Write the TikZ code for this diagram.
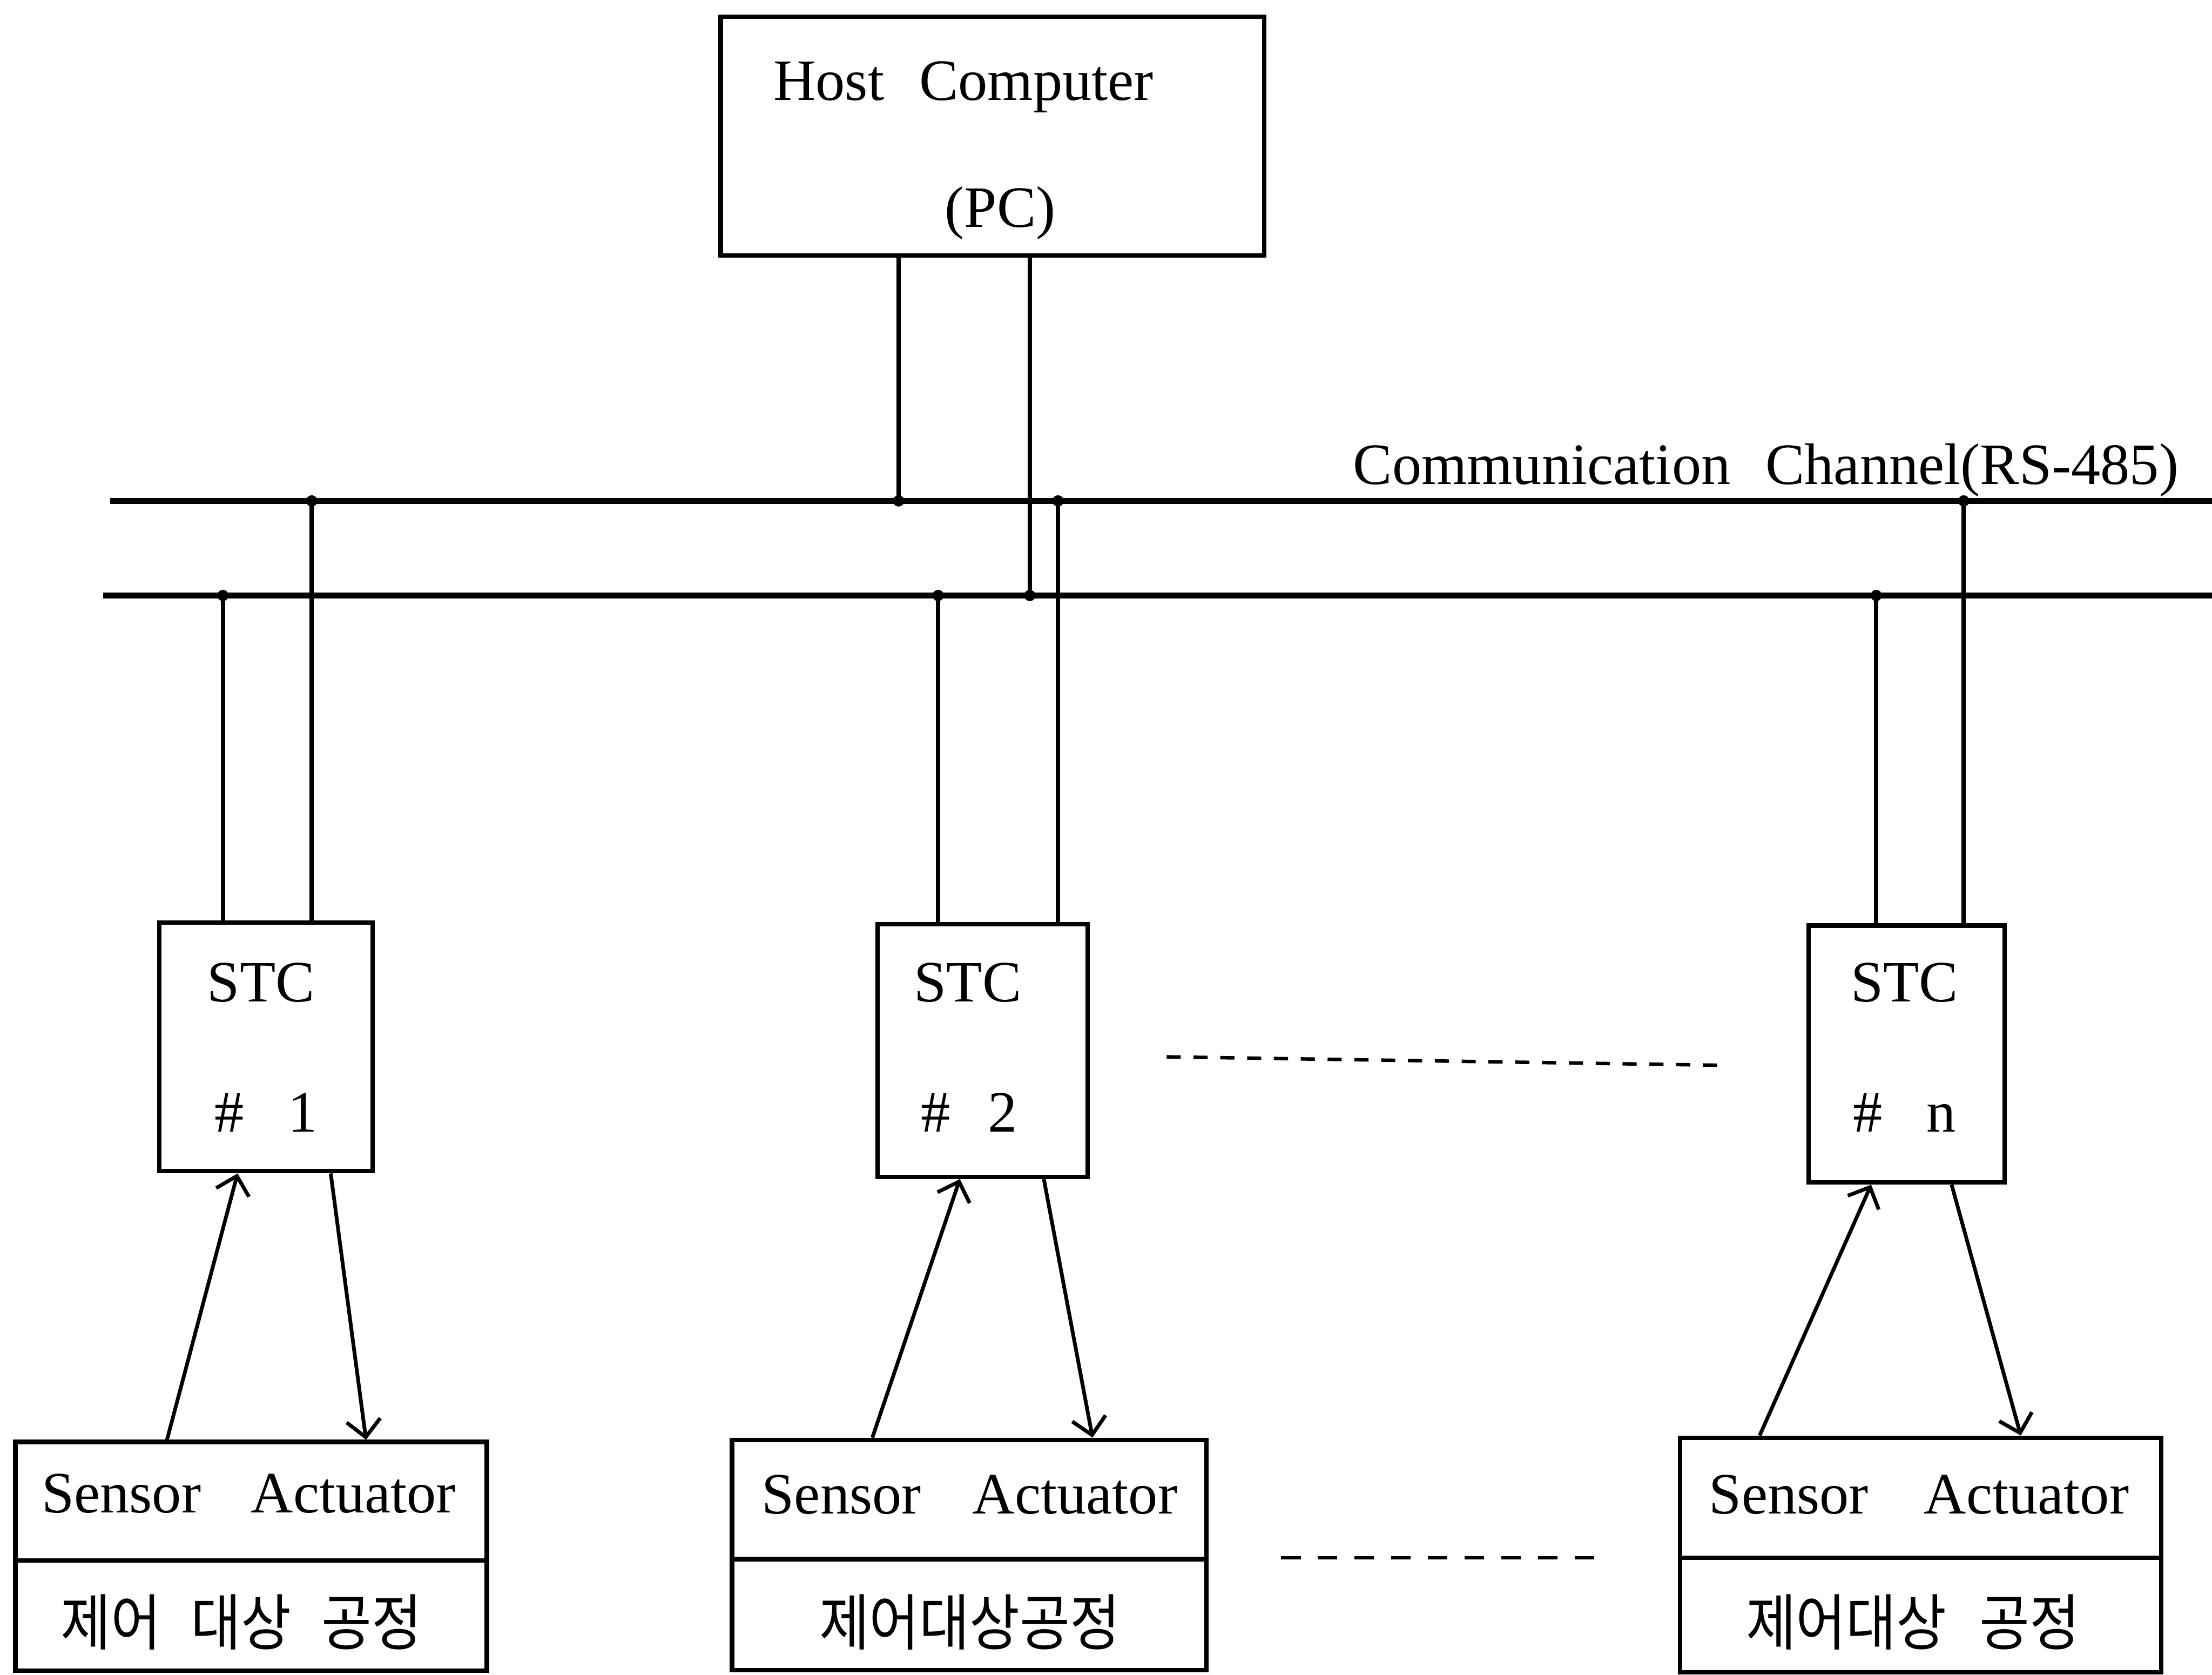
\documentclass[tikz,border=0pt]{standalone}
\usepackage{fontspec}
\usepackage{graphicx}
\setmainfont{Liberation Serif}
\newfontfamily\hangul{Noto Sans CJK KR}
\usetikzlibrary{arrows.meta}
% Hangul set slightly taller than the font's natural proportions
\newcommand{\kor}[1]{\scalebox{1}[1.12]{\hangul #1}}

\begin{document}
\begin{tikzpicture}[x=0.01cm,y=-0.01cm,
  box/.style={draw,line width=0.9pt,inner sep=0pt},
  bus/.style={line width=1.25pt},
  lead/.style={line width=0.85pt},
  sig/.style={line width=0.75pt,-{Straight Barb[length=1.2mm,width=2.4mm,line width=0.75pt]}},
  tap/.style={circle,fill=black,inner sep=0pt,minimum size=0.8mm},
  lbl/.style={inner sep=0pt,font=\fontsize{11.8}{14}\selectfont},
  klbl/.style={inner sep=0pt,font=\fontsize{11}{13}\selectfont},
  gapA/.style={line width=0.7pt,dash pattern=on 0.10cm off 0.09cm},
  gapB/.style={line width=0.7pt,dash pattern=on 0.14cm off 0.12cm}]

\useasboundingbox[fill=white] (0,0) rectangle (1568,1187);

% ---- host computer ----
\node[box,minimum width=3.85cm,minimum height=1.69cm] (host) at (703.5,96.5) {};
\node[lbl,anchor=base] (hostname) at (683,71) {Host\hspace{0.6em}Computer};
\node[lbl,anchor=base] (hostpc) at (709,161) {(PC)};

% ---- RS-485 two-wire bus ----
\coordinate (busAw) at (78,355);  \coordinate (busAe) at (1568,355);
\coordinate (busBw) at (73,422);  \coordinate (busBe) at (1568,422);
\draw[bus] (busAw) -- (busAe);
\draw[bus] (busBw) -- (busBe);
\node[lbl,anchor=base east] (chan) at (1545,343) {Communication\hspace{0.6em}Channel(RS-485)};

% ---- bus taps ----
\node[tap] (tH1) at (637,355) {};
\node[tap] (tH2) at (730,422) {};
\node[tap] (t1a) at (158,422) {};
\node[tap] (t1b) at (221,355) {};
\node[tap] (t2a) at (665,422) {};
\node[tap] (t2b) at (750,355) {};
\node[tap] (tna) at (1330,422) {};
\node[tap] (tnb) at (1392,355) {};

% ---- STC units ----
\node[box,minimum width=1.51cm,minimum height=1.76cm] (stc1) at (188.5,742) {};
\node[box,minimum width=1.49cm,minimum height=1.79cm] (stc2) at (696.5,744.5) {};
\node[box,minimum width=1.39cm,minimum height=1.82cm] (stcn) at (1351.5,747) {};

\node[lbl,anchor=base] (stc1a) at (185,710) {STC};
\node[lbl,anchor=base] (stc1b) at (188.5,802) {\#\hspace{0.75em}1};
\node[lbl,anchor=base] (stc2a) at (686,710) {STC};
\node[lbl,anchor=base] (stc2b) at (687,802) {\#\hspace{0.65em}2};
\node[lbl,anchor=base] (stcna) at (1350,710) {STC};
\node[lbl,anchor=base] (stcnb) at (1350,802) {\#\hspace{0.75em}n};

% ---- leads from host and STCs to the bus ----
\draw[lead] (host.south -| tH1) -- (tH1.center);
\draw[lead] (host.south -| tH2) -- (tH2.center);
\draw[lead] (t1a.center) -- (stc1.north -| t1a);
\draw[lead] (t1b.center) -- (stc1.north -| t1b);
\draw[lead] (t2a.center) -- (stc2.north -| t2a);
\draw[lead] (t2b.center) -- (stc2.north -| t2b);
\draw[lead] (tna.center) -- (stcn.north -| tna);
\draw[lead] (tnb.center) -- (stcn.north -| tnb);

% ---- controlled processes ----
\node[box,minimum width=3.34cm,minimum height=1.62cm] (s1) at (178,1103) {};
\node[box,minimum width=3.36cm,minimum height=1.63cm] (s2) at (687,1102) {};
\node[box,minimum width=3.41cm,minimum height=1.66cm] (s3) at (1361.5,1102) {};

\coordinate (d1) at (0,1106);
\coordinate (d2) at (0,1105);
\coordinate (d3) at (0,1104);
\draw[line width=0.9pt] (s1.west |- d1) -- (s1.east |- d1);
\draw[line width=0.9pt] (s2.west |- d2) -- (s2.east |- d2);
\draw[line width=0.9pt] (s3.west |- d3) -- (s3.east |- d3);

\node[lbl,anchor=base] (sen1) at (86,1072) {Sensor};
\node[lbl,anchor=base] (act1) at (250.5,1072) {Actuator};
\node[lbl,anchor=base] (sen2) at (596.5,1073) {Sensor};
\node[lbl,anchor=base] (act2) at (762,1073) {Actuator};
\node[lbl,anchor=base] (sen3) at (1268,1073) {Sensor};
\node[lbl,anchor=base] (act3) at (1436.5,1073) {Actuator};

\node[klbl,anchor=base] (proc1) at (171,1166) {\kor{제어\hspace{0.55em}대상\hspace{0.55em}공정}};
\node[klbl,anchor=base] (proc2) at (687.5,1166) {\kor{제어대상공정}};
\node[klbl,anchor=base] (proc3) at (1356,1166) {\kor{제어대상\hspace{0.6em}공정}};

% ---- sensor / actuator signals ----
\draw[sig] ([xshift=1.09cm]s1.north west) -- ([xshift=0.57cm]stc1.south west);
\draw[sig] ([xshift=1.23cm]stc1.south west) -- ([xshift=2.50cm]s1.north west);
\draw[sig] ([xshift=1.01cm]s2.north west) -- ([xshift=0.60cm]stc2.south west);
\draw[sig] ([xshift=1.195cm]stc2.south west) -- ([xshift=2.57cm]s2.north west);
\draw[sig] ([xshift=0.58cm]s3.north west) -- ([xshift=0.46cm]stcn.south west);
\draw[sig] ([xshift=1.03cm]stcn.south west) -- ([xshift=2.43cm]s3.north west);

% ---- ellipsis between units ----
\coordinate (gA1) at (827,749);  \coordinate (gA2) at (1222,755);
\coordinate (gB1) at (908,1104); \coordinate (gB2) at (1140,1104);
\draw[gapA] (gA1) -- (gA2);
\draw[gapB] (gB1) -- (gB2);
\end{tikzpicture}
\end{document}
